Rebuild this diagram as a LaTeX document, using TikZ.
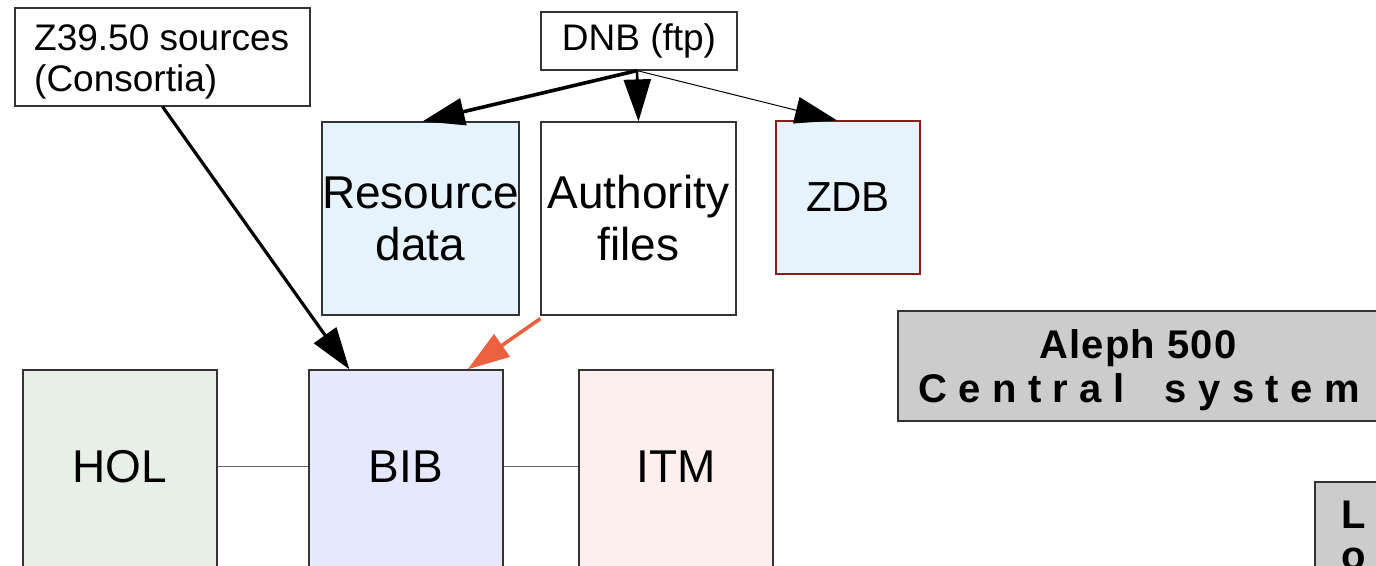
\documentclass[tikz,border=0pt]{standalone}
\usepackage{fontspec}
\setmainfont{Liberation Sans}
\usetikzlibrary{arrows.meta,calc}
\definecolor{resblue}{HTML}{E6F3FD}
\definecolor{holgreen}{HTML}{E6F0E6}
\definecolor{bibblue}{HTML}{E5E9FB}
\definecolor{itmpink}{HTML}{FDEFEC}
\definecolor{zdbred}{HTML}{8B1A1A}
\definecolor{sysgray}{HTML}{CCCCCC}
\definecolor{arrorange}{HTML}{EB613D}
\definecolor{boxline}{HTML}{333333}
\newcommand\smallfnt{\fontsize{37}{41}\selectfont}
\newcommand\bigfnt{\fontsize{46}{52}\selectfont}
\newcommand\boldfnt{\fontsize{40}{44}\selectfont\bfseries}
\begin{document}
\begin{tikzpicture}[x=1pt,y=-1pt,
  box/.style={draw=boxline, line width=1.2pt, inner sep=0pt, align=center},
  link/.style={draw=black!60, line width=0.8pt},
  bigarrow/.style={-{Triangle[length=42pt,width=27pt]}},
]
\useasboundingbox (0,0) rectangle (1376,565);
\clip (0,0) rectangle (1376,565);

% top sources
\node[box, minimum width=295pt, minimum height=98pt] (z3950) at (162.5,57) {};
\node[inner sep=0pt, anchor=north west, font=\smallfnt, align=left] (z3950t) at (34,24) {Z39.50 sources\\(Consortia)};
\node[box, minimum width=196pt, minimum height=58pt, font=\smallfnt] (dnb) at (639,41) {DNB (ftp)};

% data boxes
\node[box, fill=resblue, minimum width=195pt, minimum height=193pt, font=\bigfnt] (res) at (420.5,218.5) {Resource\\data};
\node[box, fill=white, minimum width=195pt, minimum height=193pt, font=\bigfnt] (auth) at (638.5,218.5) {Authority\\files};
\node[box, draw=zdbred, fill=resblue, minimum width=144pt, minimum height=153pt, font=\fontsize{42}{48}\selectfont] (zdb) at (848,197.5) {ZDB};

% central system
\node[box, fill=sysgray, minimum width=484pt, minimum height=110pt] (aleph) at (1140,366) {};
\node[inner sep=0pt, anchor=base, font=\boldfnt] (alephA) at (1138,358)
  {\makebox[197pt][s]{A\hfill l\hfill e\hfill p\hfill h \hfill 5\hfill 0\hfill 0}};
\node[inner sep=0pt, anchor=base, font=\boldfnt] (alephB) at (1139,402)
  {\makebox[442pt][s]{C\hfill e\hfill n\hfill t\hfill r\hfill a\hfill l \hskip 0pt plus 2.5fill s\hfill y\hfill s\hfill t\hfill e\hfill m}};

% modules
\node[box, fill=holgreen, minimum width=194pt, minimum height=198pt] (hol) at (120,469) {};
\node[font=\bigfnt, inner sep=0pt] (holt) at (120,467) {HOL};
\node[box, fill=bibblue, minimum width=194pt, minimum height=198pt] (bib) at (406,469) {};
\node[font=\bigfnt, inner sep=0pt] (bibt) at (406,467) {BIB};
\node[box, fill=itmpink, minimum width=194pt, minimum height=198pt] (itm) at (676,469) {};
\node[font=\bigfnt, inner sep=0pt] (itmt) at (676,467) {ITM};

% partial box on the right
\node[box, fill=sysgray, minimum width=120pt, minimum height=160pt] (lbox) at (1375,562) {};
\node[inner sep=0pt, anchor=base, font=\boldfnt] (lL) at (1354,528) {L};
\node[inner sep=0pt, anchor=base, font=\boldfnt] (lo) at (1354,569) {o};

% connectors
\draw[link] (hol.east |- 0,466) -- (bib.west |- 0,466);
\draw[link] (bib.east |- 0,466) -- (itm.west |- 0,466);

\draw[bigarrow, line width=3.2pt] (z3950.south) -- ([xshift=41pt]bib.north west);
\draw[bigarrow, line width=3.6pt] ([xshift=-2pt]dnb.south) -- ([xshift=2pt]res.north);
\draw[bigarrow, line width=2.6pt] ([xshift=-2pt]dnb.south) -- (auth.north);
\draw[bigarrow, line width=1pt] ([xshift=-2pt]dnb.south) -- ([xshift=-11pt]zdb.north);
\draw[bigarrow, line width=3.6pt, draw=arrorange, fill=arrorange] ([yshift=-3pt]auth.south west) -- ([xshift=-36pt]bib.north east);
\end{tikzpicture}
\end{document}
